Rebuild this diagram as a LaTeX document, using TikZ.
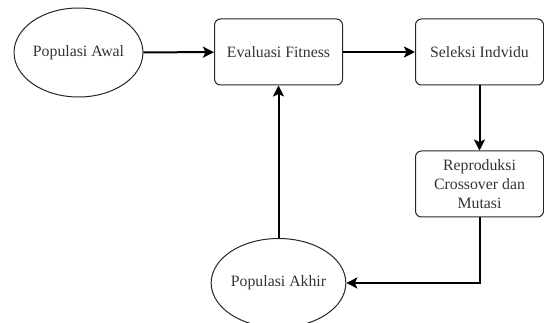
\documentclass[tikz,border=0pt]{standalone}
\usepackage{fontspec}
\setmainfont{Liberation Serif}
\usetikzlibrary{shapes.geometric,arrows.meta}

\begin{document}
\begin{tikzpicture}[x=1pt,y=-1pt,
  every node/.style={align=center,font=\rmfamily\fontsize{15.8}{19}\selectfont,text=black!80},
  proses/.style={draw,rounded corners=6pt,minimum width=128pt,minimum height=66pt,inner sep=0pt,line width=1pt,draw=black!85},
  populasi/.style={draw,ellipse,minimum width=127pt,minimum height=89pt,inner sep=0pt,line width=1pt,draw=black!85},
  alur/.style={-{Stealth[length=11pt,width=11pt,inset=2.5pt]},line width=2pt}]
\useasboundingbox (0,0) rectangle (544,323);

\node[populasi] (awal) at (78.5,52.5) {Populasi Awal};
\node[proses] (evaluasi) at (278.5,52) {Evaluasi Fitness};
\node[proses] (seleksi) at (479.5,52) {Seleksi Indvidu};
\node[proses] (reproduksi) at (479.5,184) {Reproduksi\\Crossover dan\\Mutasi};
\node[populasi] (akhir) at (278.5,283) {Populasi Akhir};

\draw[alur] (awal) -- (evaluasi);
\draw[alur] (evaluasi) -- (seleksi);
\draw[alur] (seleksi) -- (reproduksi);
\draw[alur] (reproduksi.south) |- (akhir.east);
\draw[alur] (akhir) -- (evaluasi);
\end{tikzpicture}
\end{document}
